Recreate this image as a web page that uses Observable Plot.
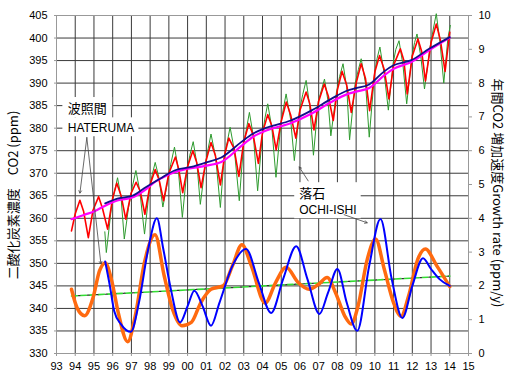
<!DOCTYPE html>
<html><head><meta charset="utf-8">
<script src="https://cdn.jsdelivr.net/npm/d3@7"></script>
<script src="https://cdn.jsdelivr.net/npm/@observablehq/plot@0.6"></script>
<style>
html,body{margin:0;padding:0;background:#fff;}
#chart{position:relative;width:512px;height:384px;}
.ttl{position:absolute;font-family:"Noto Sans CJK JP","Liberation Sans",sans-serif;font-size:13px;color:#000;white-space:nowrap;}
</style>
</head><body>
<div id="chart"></div>
<script>
// Hateruma monthly CO2 (ppm)
const hatT = [1993.80,1994.00,1994.25,1994.45,1994.70,1994.95,1995.25,1995.45,1995.73,1996.00,1996.22,1996.45,1996.70,1996.98,1997.25,1997.47,1997.72,1998.00,1998.27,1998.48,1998.72,1999.00,1999.35,1999.52,1999.74,2000.00,2000.28,2000.48,2000.72,2001.00,2001.25,2001.48,2001.75,2002.00,2002.20,2002.48,2002.74,2003.00,2003.27,2003.50,2003.78,2004.00,2004.28,2004.50,2004.73,2005.00,2005.27,2005.50,2005.78,2006.00,2006.33,2006.52,2006.75,2007.00,2007.30,2007.52,2007.78,2008.00,2008.25,2008.50,2008.74,2009.00,2009.27,2009.50,2009.72,2010.00,2010.25,2010.50,2010.75,2011.00,2011.36,2011.55,2011.73,2012.00,2012.30,2012.50,2012.70,2013.00,2013.28,2013.50,2013.75,2014.00];
const hatV = [357.2,361.0,364.0,361.5,355.7,361.8,364.8,362.3,357.6,364.5,367.8,365.0,359.8,365.5,368.0,366.0,360.9,367.5,370.8,368.5,363.9,370.0,373.6,371.0,365.7,371.5,375.0,372.5,366.8,373.0,376.8,374.0,367.4,374.5,377.8,375.5,369.3,377.0,381.0,378.5,372.2,379.0,383.0,380.5,375.2,381.5,385.8,383.0,377.8,384.0,388.0,385.5,379.6,386.0,389.8,387.0,381.7,388.5,392.6,389.5,383.5,390.0,394.3,391.0,383.9,392.5,396.1,393.0,386.5,394.0,397.6,395.0,387.6,396.0,399.8,397.0,390.5,399.0,403.1,399.5,392.6,401.3];
// Ochi-ishi monthly CO2 (ppm)
const ochT = [1995.58,1995.66,1995.95,1996.10,1996.26,1996.45,1996.62,1996.85,1997.05,1997.24,1997.45,1997.70,1997.95,1998.10,1998.27,1998.47,1998.68,1998.95,1999.10,1999.30,1999.50,1999.72,1999.95,2000.12,2000.30,2000.50,2000.68,2000.95,2001.10,2001.25,2001.50,2001.75,2001.95,2002.12,2002.27,2002.50,2002.76,2002.98,2003.15,2003.30,2003.52,2003.74,2003.98,2004.12,2004.28,2004.50,2004.72,2004.98,2005.12,2005.26,2005.50,2005.70,2005.98,2006.15,2006.33,2006.52,2006.72,2006.98,2007.15,2007.31,2007.50,2007.65,2007.95,2008.12,2008.30,2008.50,2008.65,2008.95,2009.12,2009.27,2009.50,2009.70,2009.98,2010.12,2010.27,2010.50,2010.72,2010.98,2011.12,2011.29,2011.50,2011.70,2011.98,2012.12,2012.25,2012.45,2012.65,2012.95,2013.12,2013.28,2013.48,2013.68,2013.90,2014.03];
const ochV = [357.0,352.4,363.0,366.0,369.0,364.5,355.4,362.5,367.0,370.6,366.0,356.5,366.0,369.5,372.4,369.0,362.5,368.5,372.0,375.8,371.0,360.2,370.0,374.0,377.0,372.0,363.1,372.0,375.5,378.7,373.5,362.4,373.5,377.0,380.2,375.0,363.9,376.0,380.0,383.5,378.0,366.1,378.0,382.0,385.4,380.0,369.1,381.0,384.5,387.6,382.0,372.8,384.0,387.5,390.6,385.0,374.0,386.0,388.5,390.9,386.0,378.3,388.0,391.5,394.3,389.0,377.4,390.0,393.0,395.4,390.0,378.0,392.0,395.5,398.0,392.0,384.0,394.5,397.5,399.4,394.0,385.4,396.0,399.0,400.9,396.0,388.7,398.0,402.0,405.4,399.0,390.0,400.0,402.8];
// Trends (ppm)
const hatTrendT = [1993.8,1994.5,1995.0,1995.6,1996.3,1997.05,1997.7,1998.3,1998.65,1999.3,2000.0,2000.45,2001.0,2001.8,2002.86,2003.5,2004.28,2005.5,2006.6,2007.67,2008.5,2009.0,2009.7,2010.5,2010.97,2011.95,2012.9,2014.0];
const hatTrendV = [359.8,360.8,361.5,362.8,364.0,364.6,366.2,368.2,369.0,370.2,371.0,371.3,371.7,372.5,376.0,378.1,379.6,381.1,383.2,385.8,387.5,388.1,388.9,391.7,393.1,394.7,397.3,400.1];
const ochTrendT = [1995.6,1996.3,1997.05,1997.7,1998.5,1999.3,2000.2,2001.0,2001.8,2002.86,2003.5,2004.28,2005.5,2006.6,2007.67,2008.5,2009.0,2009.7,2010.5,2010.97,2011.95,2012.9,2014.0];
const ochTrendV = [363.3,364.4,365.0,366.7,368.7,370.6,371.4,372.4,373.5,376.9,378.8,380.2,381.7,383.9,386.5,388.3,388.9,389.7,392.6,393.9,395.1,397.6,400.2];
// Growth rates (ppm/y)
const hatRateT = [1993.8,1994.1,1994.5,1994.95,1995.3,1995.6,1995.95,1996.3,1996.8,1997.2,1997.7,1998.26,1998.75,1999.2,1999.7,2000.2,2000.7,2001.25,2001.9,2002.4,2002.9,2003.4,2004.14,2004.7,2005.26,2005.9,2006.5,2007.0,2007.45,2007.9,2008.4,2008.74,2009.1,2009.6,2010.04,2010.5,2011.0,2011.4,2011.8,2012.3,2012.7,2013.3,2014.0];
const hatRateV = [1.90,1.35,1.12,1.65,2.45,2.68,2.15,1.20,0.35,1.10,2.70,3.51,2.30,1.30,0.82,0.92,1.50,1.90,2.00,2.60,3.22,2.60,1.49,2.10,2.55,2.10,1.90,2.05,2.25,1.80,1.10,0.87,1.40,2.80,3.39,2.50,1.50,1.10,1.70,2.80,3.09,2.60,1.98];
const ochRateT = [1995.6,1995.85,1996.08,1996.44,1996.97,1997.4,1997.9,1998.36,1998.7,1999.1,1999.6,2000.0,2000.36,2000.8,2001.25,2001.7,2002.4,2003.12,2003.8,2004.46,2005.1,2005.8,2006.4,2007.04,2007.5,2008.0,2008.5,2009.06,2009.7,2010.3,2010.9,2011.47,2012.0,2012.57,2013.0,2013.45,2014.0];
const ochRateV = [2.72,2.00,1.26,0.87,0.64,1.50,3.10,4.00,3.10,1.92,0.92,1.40,1.86,1.40,0.82,1.50,2.60,3.09,2.10,1.20,2.20,3.17,2.20,1.17,1.80,2.50,1.50,0.67,2.60,3.98,2.20,1.05,2.00,2.82,2.50,2.20,2.00];
const trendRateT = [1993.8,2014.0];
const trendRateV = [1.70,2.29];
// Axis ticks
const yearTicks = d3.range(1993,2016);
const ppmTicks = d3.range(330,406,5);
const rateTicks = d3.range(0,11);
const toPpm = r => 330 + 7.5*r;

const zip = (T,V) => T.map((t,i)=>({t, v:V[i]}));
const zipR = (T,V) => T.map((t,i)=>({t, v:toPpm(V[i])}));

const hat = zip(hatT,hatV), och = zip(ochT,ochV);
const hatTr = zip(hatTrendT,hatTrendV), ochTr = zip(ochTrendT,ochTrendV);
const hatR = zipR(hatRateT,hatRateV), ochR = zipR(ochRateT,ochRateV), trR = zipR(trendRateT,trendRateV);

const boxes = [
  {x1:1993.34,x2:1996.0,y1:382.3,y2:386.8},
  {x1:1993.34,x2:1997.4,y1:378.1,y2:382.3},
  {x1:2005.72,x2:2009.27,y1:359.9,y2:367.9}
];
const labels = [
  {x:1993.6,y:384.3,text:"波照間",jp:true},
  {x:1993.6,y:380.0,text:"HATERUMA",jp:false},
  {x:2005.96,y:365.4,text:"落石",jp:true},
  {x:2005.96,y:361.8,text:"OCHI-ISHI",jp:false}
];
const arrows = [
  {x1:1994.62,y1:377.9,x2:1994.25,y2:365.6},
  {x1:1994.62,y1:377.9,x2:1995.37,y2:349.9},
  {x1:2006.44,y1:368.3,x2:2005.96,y2:371.4},
  {x1:2008.36,y1:360.8,x2:2009.59,y2:359.0}
];

const chart = Plot.plot({
  width:512, height:384,
  marginLeft:56, marginRight:44, marginTop:15, marginBottom:31,
  x:{domain:[1993,2015]},
  y:{domain:[330,405]},
  style:{fontFamily:"'Liberation Sans', Arial, sans-serif", fontSize:"11px", background:"#fff", color:"#000"},
  marks:[
    Plot.ruleX(yearTicks.slice(1,-1), {stroke:"#3a3a3a", strokeWidth:1}),
    Plot.ruleY(ppmTicks.slice(1,-1), {stroke:"#3a3a3a", strokeWidth:1}),
    Plot.ruleX([1993,2015], {stroke:"#999", strokeWidth:1}),
    Plot.ruleY([330,405], {stroke:"#999", strokeWidth:1}),
    Plot.axisX(yearTicks, {tickSize:3, tickPadding:6, stroke:"#999", tickFormat:d=>String(d%100).padStart(2,"0"), label:null, fontSize:11}),
    Plot.axisY(ppmTicks, {anchor:"left", tickSize:2, tickPadding:7, stroke:"#999", label:null, fontSize:11}),
    Plot.axisY(rateTicks.map(toPpm), {anchor:"right", tickSize:3, tickPadding:7, stroke:"#999", tickFormat:v=>String(Math.round((v-330)/7.5)), label:null, fontSize:11}),
    Plot.rect(boxes, {x1:"x1",x2:"x2",y1:"y1",y2:"y2", fill:"#fff"}),
    Plot.line(och, {x:"t", y:"v", stroke:"#2e9a2e", strokeWidth:1}),
    Plot.line(hat, {x:"t", y:"v", stroke:"#ff0000", strokeWidth:1.6}),
    Plot.line(hatTr, {x:"t", y:"v", stroke:"#ff00ff", strokeWidth:2.2, curve:"monotone-x"}),
    Plot.line(ochTr, {x:"t", y:"v", stroke:"#10108a", strokeWidth:1.8, curve:"monotone-x"}),
    Plot.line(trR, {x:"t", y:"v", stroke:"#33dd33", strokeWidth:1.6, strokeDasharray:"6,3"}),
    Plot.line(trR, {x:"t", y:"v", stroke:"#333", strokeWidth:1.2, strokeDasharray:"1.5,7.5", strokeDashoffset:-7}),
    Plot.line(hatR, {x:"t", y:"v", stroke:"#ff6a10", strokeWidth:3.5, curve:"monotone-x"}),
    Plot.line(ochR, {x:"t", y:"v", stroke:"#0000ff", strokeWidth:2, curve:"monotone-x"}),
    Plot.arrow(arrows, {x1:"x1",y1:"y1",x2:"x2",y2:"y2", stroke:"#444", strokeWidth:0.8, headLength:5}),
    Plot.text(labels.filter(d=>d.jp), {x:"x", y:"y", text:"text", textAnchor:"start", fontSize:13, fontFamily:"'Noto Sans CJK JP', sans-serif", fill:"#000"}),
    Plot.text(labels.filter(d=>!d.jp), {x:"x", y:"y", text:"text", textAnchor:"start", fontSize:12, fill:"#000"})
  ]
});
const host = document.getElementById("chart");
host.appendChild(chart);
const lt = document.createElement("div");
lt.className="ttl";
lt.textContent="二酸化炭素濃度　CO2 (ppm)";
lt.style.cssText="left:12px;top:195px;transform:translate(-50%,-50%) rotate(-90deg);";
host.appendChild(lt);
const rt = document.createElement("div");
rt.className="ttl";
rt.textContent="年間CO2 増加速度Growth rate (ppm/y)";
rt.style.cssText="left:498px;top:193px;transform:translate(-50%,-50%) rotate(90deg);";
host.appendChild(rt);
</script>
</body></html>
